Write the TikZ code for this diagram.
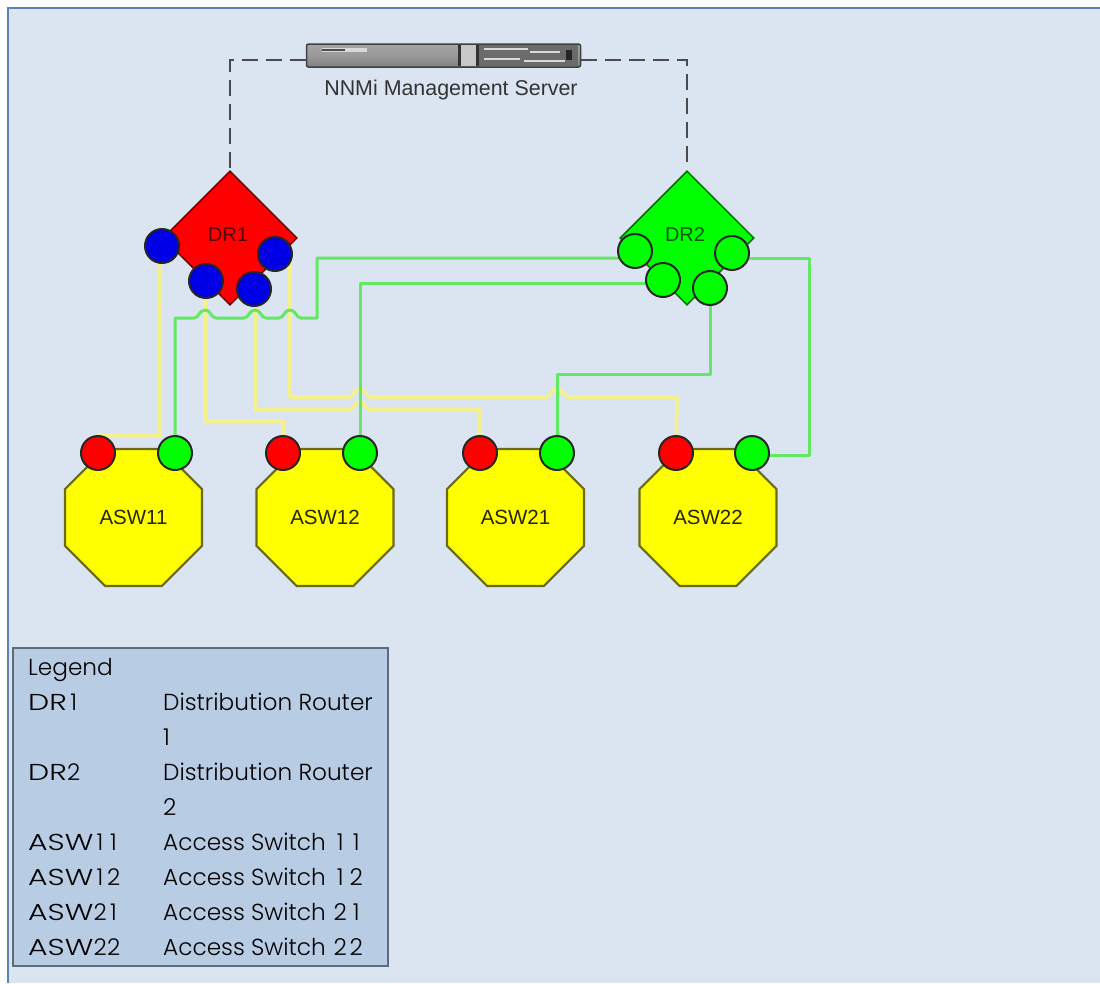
\documentclass[tikz,border=0pt]{standalone}
\usepackage{fontspec}
\setmainfont{Liberation Sans}
\newfontfamily\legfont{Poppins Light}
\newfontfamily\legwide[FakeStretch=1.3]{Poppins Light}
\usetikzlibrary{shapes.geometric}
\definecolor{pagebg}{HTML}{DBE5F1}
\definecolor{frameblue}{HTML}{5B83B8}
\definecolor{legbg}{HTML}{B8CCE4}
\definecolor{legedge}{HTML}{5E6A78}
\definecolor{wgreen}{HTML}{62E862}
\definecolor{wyellow}{HTML}{F4F08C}
\definecolor{dashgray}{HTML}{4A4A50}
\definecolor{portline}{HTML}{262626}
\definecolor{octedge}{HTML}{6A6A1A}
\definecolor{pureyellow}{HTML}{FFFF00}
\definecolor{purered}{HTML}{FF0000}
\definecolor{puregreen}{HTML}{00FF00}
\definecolor{pureblue}{HTML}{0000E6}
\pgfdeclarelayer{bgl}\pgfdeclarelayer{connl}
\pgfsetlayers{bgl,connl,main}
\tikzset{
  port/.style={circle,draw=portline,line width=2pt,minimum size=34pt,inner sep=0pt},
  blueport/.style={port,fill=pureblue},
  redport/.style={port,fill=purered},
  greenport/.style={port,fill=puregreen},
  router/.style={diamond,draw=#1!45!black,line width=1.6pt,fill=#1,minimum width=134pt,minimum height=134pt,inner sep=0pt,aspect=1},
  switchbox/.style={regular polygon,regular polygon sides=8,minimum size=148.3pt,inner sep=0pt,fill=pureyellow,draw=octedge,line width=2.2pt,font=\fontsize{20.5pt}{22pt}\selectfont,text=black!85!pureyellow},
  ylink/.style={draw=wyellow,line width=3.6pt,line join=round},
  glink/.style={draw=wgreen,line width=3pt,line join=round},
  dashlink/.style={draw=dashgray,line width=2.6pt,dash pattern=on 16pt off 8pt},
  legtext/.style={anchor=base west,inner sep=0pt,font=\legfont\fontsize{23.2pt}{28pt}\selectfont,text=black},
  legkey/.style={anchor=base west,inner sep=0pt,font=\legwide\fontsize{23pt}{28pt}\selectfont,text=black},
  devlabel/.style={font=\fontsize{20pt}{22pt}\selectfont,inner sep=0pt}
}
\newcommand{\hopat}[2]{-- ({#1-11},#2) .. controls ({#1-6},#2) and ({#1-6},{#2-8}) .. (#1,{#2-8}) .. controls ({#1+6},{#2-8}) and ({#1+6},#2) .. ({#1+11},#2)}
\newcommand{\dg}[1]{\makebox[13.5pt][c]{\legfont #1}}
\newcommand{\dgw}[1]{\makebox[16pt][c]{\legfont #1}}
\begin{document}
\begin{tikzpicture}[x=1pt,y=-1pt]
\useasboundingbox (0,0) rectangle (1100,983);
\begin{pgfonlayer}{bgl}
\fill[white] (0,0) rectangle (1100,983);
\fill[pagebg] (8,8) rectangle (1100,983);
\draw[frameblue,line width=1.2pt] (8,983) -- (8,8) -- (1100,8);
\end{pgfonlayer}

% server
\node[draw=black!75,line width=1.5pt,rounded corners=2pt,minimum width=274pt,minimum height=23pt,inner sep=0pt,
  top color=black!35,bottom color=black!50,middle color=black!40] (server) at (443.5,55.5) {};
\fill[black!15] (322,47.5) rectangle (367,52);
\fill[black!70] (322,49) rectangle (345,50.5);
\fill[black!80] (458,45) rectangle (461,66);
\fill[black!22] (461,45) rectangle (476,66);
\fill[black!80] (476,45) rectangle (479,66);
\fill[black!58] (479,45) rectangle (578,66);
\fill[black!15] (484,48) rectangle (528,50);
\fill[black!15] (484,58) rectangle (520,60);
\fill[black!15] (530,51) rectangle (560,53);
\fill[black!15] (524,60) rectangle (565,62);
\fill[black!85] (566,50) rectangle (572,60);
\node[inner sep=0pt,text=black!80,font=\fontsize{21.4pt}{24pt}\selectfont] (servername) at (451,90) {NNMi Management Server};

% routers
\node[router=red] (dr1) at (230,238) {};
\node[router=green] (dr2) at (687,238) {};
\node[devlabel,text=red!35!black] (dr1t) at (228,235) {DR1};
\node[devlabel,text=green!35!black] (dr2t) at (685,235) {DR2};

\node[blueport] (b1) at (162,246) {};
\node[blueport] (b2) at (206,281) {};
\node[blueport] (b3) at (254,289) {};
\node[blueport] (b4) at (275,254) {};
\node[greenport] (g1) at (635,251) {};
\node[greenport] (g2) at (663,280) {};
\node[greenport] (g3) at (710,288) {};
\node[greenport] (g4) at (732,253) {};

% switches
\node[switchbox] (asw11) at (133.5,517.5) {ASW11};
\node[switchbox] (asw12) at (325,517.5) {ASW12};
\node[switchbox] (asw21) at (515.5,517.5) {ASW21};
\node[switchbox] (asw22) at (708,517.5) {ASW22};
\foreach \n/\rx/\gx in {11/98/175,12/283/360,21/480/557,22/676/752}{
  \node[redport] (r\n) at (\rx,453) {};
  \node[greenport] (s\n) at (\gx,453) {};
}

\begin{pgfonlayer}{connl}
\draw[dashlink] (server.west |- 0,60) -- (230,60) -- (dr1.north);
\draw[dashlink] (server.east |- 0,60) -- (687,60) -- (dr2.north);
% yellow
\draw[ylink] ([xshift=-2pt]b1.center) -- (160,436) -- (98,436) -- (r11.center);
\draw[ylink] (b2.center) -- (205,290) -- (205,421) -- (283,421) -- (r12.center);
\draw[ylink] (b3.center) -- (255,295) -- (255,410) \hopat{360}{410} -- (480,410) -- (r21.center);
\draw[ylink] ([xshift=15pt]b4.center) -- (290,397) \hopat{360}{397} \hopat{557}{397} -- (677,397) -- (r22.center);
% green
\draw[glink] (s11.center) -- (175,318) \hopat{205}{318} \hopat{255}{318} \hopat{290}{318} -- (317,318) -- (317,258) -- (635,258) -- (g1.center);
\draw[glink] (s12.center) -- (360,283) -- (663,283) -- (g2.center);
\draw[glink] (s21.center) -- (557,374) -- (710,374) -- (g3.center);
\draw[glink] (s22.center) -- (752,455) -- (809,455) -- (809,258) -- (732,258) -- (g4.center);
\end{pgfonlayer}

% legend
\node[draw=legedge,fill=legbg,line width=1.2pt,minimum width=375pt,minimum height=318pt,inner sep=0pt] (legend) at (200.5,807) {};
\node[legtext] (l0) at (28,675) {Legend};
\node[legkey] (l1) at (28,710) {DR\dg{1}};
\node[legtext] (l1b) at (163,710) {Distribution Router};
\node[legtext] (l1c) at (163,745) {1};
\node[legkey] (l2) at (28,780) {DR\dg{2}};
\node[legtext] (l2b) at (163,780) {Distribution Router};
\node[legtext] (l2c) at (163,815) {2};
\node[legkey] (l3) at (28,850) {ASW\dg{1}\dg{1}};
\node[legtext] (l3b) at (163,850) {Access Switch \dgw{1}\dgw{1}};
\node[legkey] (l4) at (28,885) {ASW\dg{1}\dg{2}};
\node[legtext] (l4b) at (163,885) {Access Switch \dgw{1}\dgw{2}};
\node[legkey] (l5) at (28,920) {ASW\dg{2}\dg{1}};
\node[legtext] (l5b) at (163,920) {Access Switch \dgw{2}\dgw{1}};
\node[legkey] (l6) at (28,955) {ASW\dg{2}\dg{2}};
\node[legtext] (l6b) at (163,955) {Access Switch \dgw{2}\dgw{2}};
\end{tikzpicture}
\end{document}
